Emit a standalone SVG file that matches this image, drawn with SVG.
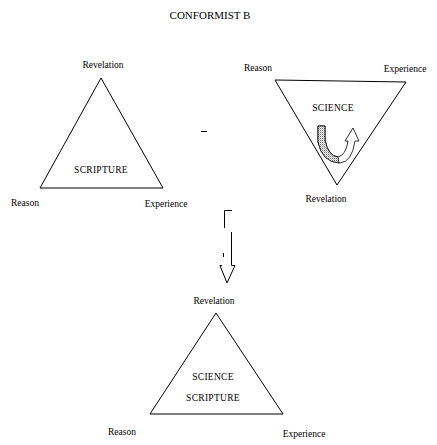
<svg xmlns="http://www.w3.org/2000/svg" width="437" height="445" viewBox="0 0 437 445">
<style>
.t{font-family:"Liberation Serif","Times New Roman",serif;font-size:9.5px;fill:#000;text-anchor:middle}
.c{font-size:9.5px;letter-spacing:0.3px}
.tri{fill:none;stroke:#000;stroke-width:1}
.ln{fill:none;stroke:#000;stroke-width:1}
</style>
<defs>
<pattern id="hatch" width="2" height="2" patternUnits="userSpaceOnUse">
<rect width="2" height="2" fill="#fff"/>
<rect width="1" height="1" fill="#666"/>
<rect x="1" y="1" width="1" height="1" fill="#bbb"/>
</pattern>
</defs>
<rect width="437" height="445" fill="#fff"/>
<text class="t" x="210" y="19" style="font-size:11px">CONFORMIST B</text>

<g id="node-scripture">
<polygon class="tri" points="101,78 40,188 163,188"/>
<text class="t" x="103" y="68">Revelation</text>
<text class="t c" x="101" y="173">SCRIPTURE</text>
<text class="t" x="25" y="206">Reason</text>
<text class="t" x="166" y="207">Experience</text>
</g>

<g id="node-science">
<polygon class="tri" points="275,80 406,82 337,185"/>
<text class="t" x="258" y="71">Reason</text>
<text class="t" x="405" y="72">Experience</text>
<text class="t c" x="333" y="111">SCIENCE</text>
<text class="t" x="326" y="202">Revelation</text>
<path d="M318,126 L325,126 L325,140 Q328,156 338,157 Q346,155 348,141 L345,141 L353,128 L359,141 L355,141 Q352,162 340,163 Q322,162 318,142 Z" fill="#fff" stroke="#000" stroke-width="0.8"/>
<path d="M318,126 L325,126 L325,140 Q328,156 338,157 L339,163 Q322,162 318,142 Z" fill="url(#hatch)" stroke="#000" stroke-width="0.8"/>
</g>

<g id="node-combined">
<polygon class="tri" points="216,313 150,414 283,414"/>
<text class="t" x="214" y="304">Revelation</text>
<text class="t c" x="213" y="380">SCIENCE</text>
<text class="t c" x="213" y="401">SCRIPTURE</text>
<text class="t" x="122" y="435">Reason</text>
<text class="t" x="304" y="437">Experience</text>
</g>

<g id="connectors">
<line class="ln" x1="201" y1="131.5" x2="207" y2="131.5"/>
<path class="ln" d="M224.5,228 L224.5,210.5 L232,210.5"/>
<path class="ln" d="M231.5,232 L231.5,265.5 L235,265.5 L227,283 L220,265.5 L222,265.5"/>
<line class="ln" x1="223.5" y1="253" x2="223.5" y2="257"/>
</g>
</svg>
